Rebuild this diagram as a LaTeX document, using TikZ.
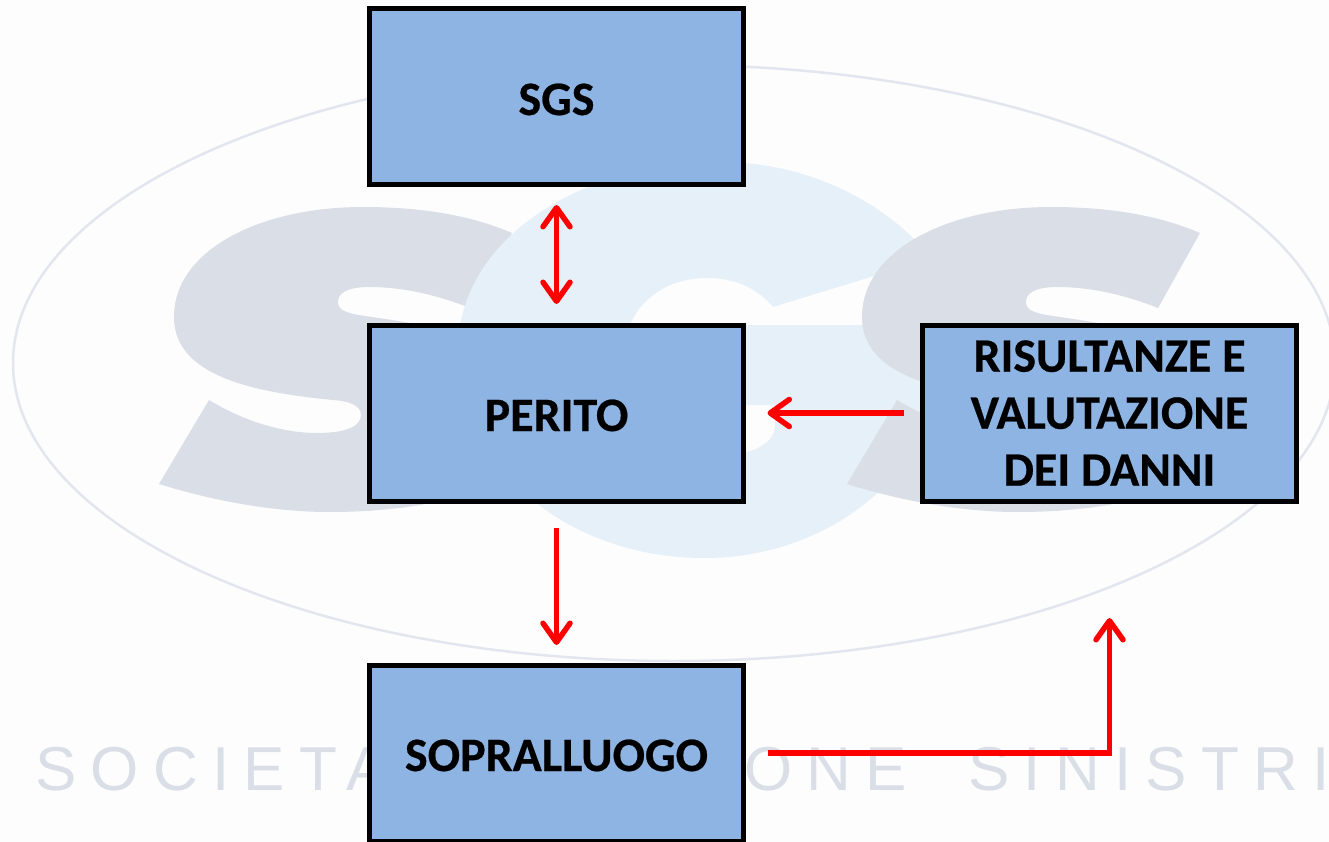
\documentclass[tikz,border=0pt]{standalone}
\usepackage{fontspec}
\setmainfont[BoldFeatures={FakeBold=0.5}]{Carlito}
\newfontfamily\markfont[LetterSpace=23]{Liberation Sans}
\usetikzlibrary{arrows.meta, positioning}

\definecolor{boxblue}{HTML}{8EB4E3}
\definecolor{markgray}{HTML}{D9DEE7}
\definecolor{markblue}{HTML}{E6F0F8}
\definecolor{markline}{HTML}{E4E6EF}
\definecolor{markpaper}{HTML}{FDFDFD}

\tikzset{
    stagebox/.style={draw=black, line width=5pt, fill=boxblue, outer sep=0pt, inner sep=0pt,
        minimum width=374pt, minimum height=176pt, align=center,
        font=\fontsize{48}{57}\selectfont\bfseries},
    oneline/.style={text height=36pt, text depth=0pt},
    flow/.style={red, line width=5.5pt, ->},
    markword/.style={anchor=base west, inner sep=0pt, text=markgray,
        font=\fontsize{62}{62}\selectfont\markfont},
    sshape/.pic={
        \fill[markgray] (512,233) -- (470,308)
            .. controls (430,292) and (395,287) .. (370,287)
            .. controls (345,287) and (338,294) .. (338,302)
            .. controls (338,310) and (345,313) .. (365,316)
            .. controls (450,328) and (545,345) .. (545,415)
            .. controls (545,480) and (450,512) .. (329,512)
            .. controls (280,512) and (220,503) .. (159,484)
            -- (209,400)
            .. controls (250,425) and (290,433) .. (316,433)
            .. controls (345,433) and (361,427) .. (361,415)
            .. controls (361,405) and (348,401) .. (333,400)
            .. controls (250,392) and (174,375) .. (174,317)
            .. controls (174,250) and (260,207) .. (363,207)
            .. controls (420,207) and (470,215) .. (512,233) -- cycle;
    }
}

\begin{document}
\begin{tikzpicture}[x=1pt, y=-1pt, >={Straight Barb[length=19pt, width=27pt, round]}]

    \useasboundingbox (0,0) rectangle (1329,842);

    % watermark
    \fill[markpaper] (0,0) rectangle (1329,842);
    \draw[markline, line width=2.5pt] (674,363) ellipse [x radius=661, y radius=298];
    \pic at (0,0) {sshape};
    \fill[markblue] (874,276) -- (773,307)
        .. controls (755,285) and (730,278) .. (707,278)
        .. controls (660,278) and (625,310) .. (625,350)
        .. controls (625,410) and (670,455) .. (720,455)
        .. controls (750,455) and (775,445) .. (775,425)
        -- (775,405) -- (743,405) -- (743,325) -- (950,325)
        .. controls (950,470) and (830,558) .. (705,558)
        .. controls (560,558) and (458,460) .. (458,350)
        .. controls (458,240) and (580,162) .. (720,162)
        .. controls (800,162) and (870,195) .. (915,240) -- cycle;
    \pic at (688,0) {sshape};
    \node[markword] (societa) at (35,790) {SOCIETA};
    \node[markword] (one) at (744,790) {ONE};
    \node[markword] (sinistri) at (968,790) {SINISTRI\kern-16pt};

    % boxes
    \node[stagebox, oneline] (sgs) at (556.5,97) {SGS};
    \node[stagebox, oneline, below=140pt of sgs] (perito) {PERITO};
    \node[stagebox, oneline, below=164pt of perito] (sopralluogo) {SOPRALLUOGO};
    \node[stagebox, right=179pt of perito] (risultanze) {RISULTANZE E\\VALUTAZIONE\\DEI DANNI};

    % arrows
    \draw[flow, <->, shorten <=20pt, shorten >=21pt] (sgs) -- (perito);
    \draw[flow, shorten <=27pt, shorten >=20pt] (perito) -- (sopralluogo);
    \draw[flow, shorten <=19pt, shorten >=24pt] (risultanze) -- (perito);
    \draw[flow, shorten <=24pt, shorten >=117pt] (sopralluogo) -| (risultanze);

\end{tikzpicture}
\end{document}
